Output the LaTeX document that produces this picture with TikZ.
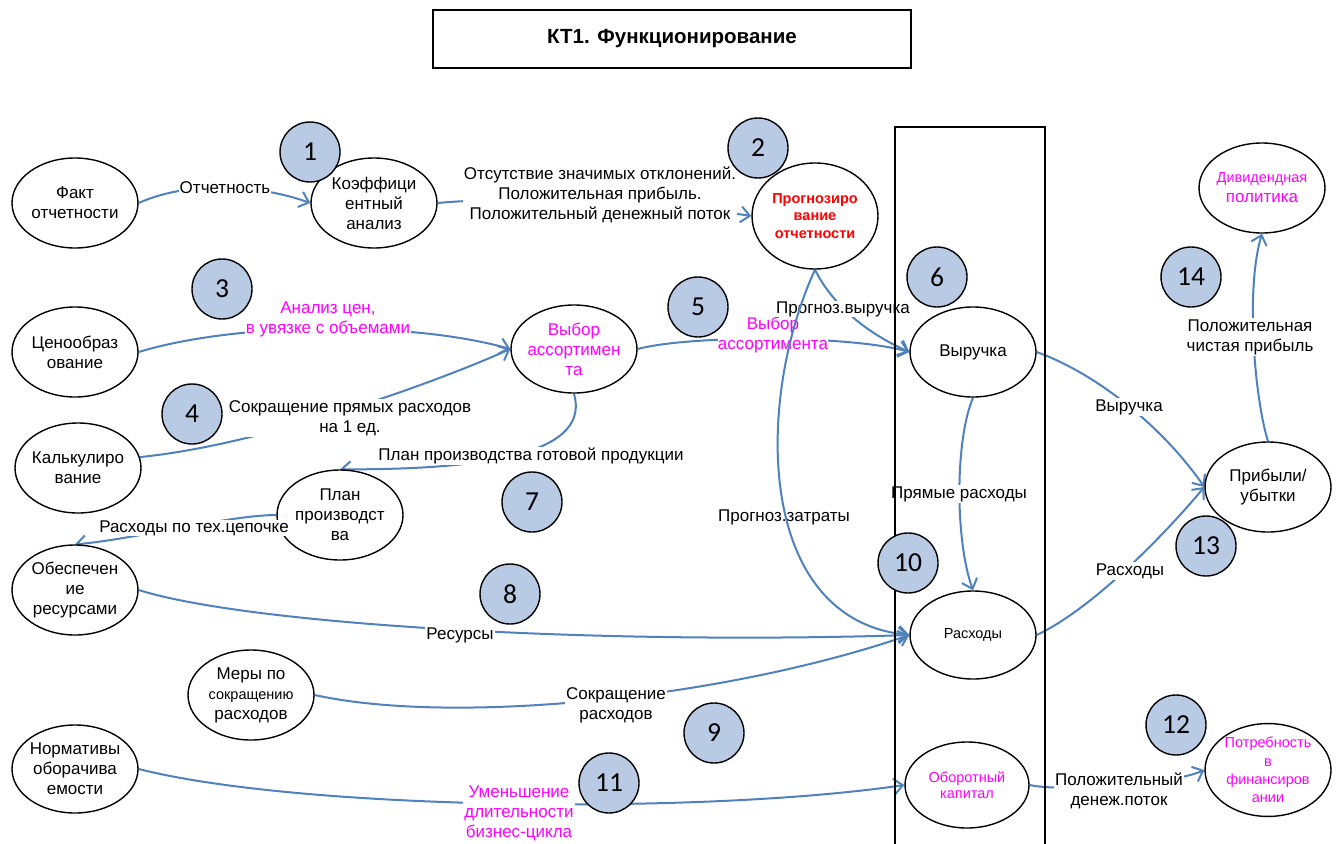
\documentclass[tikz,border=0pt]{standalone}
\usepackage{fontspec}
\setmainfont{Liberation Sans}
\newfontfamily\badgefont{Carlito}
\usetikzlibrary{arrows.meta,shapes.geometric}
\definecolor{flow}{RGB}{79,129,189}
\definecolor{badgeblue}{RGB}{185,203,228}
\definecolor{pinktext}{RGB}{255,0,255}
\definecolor{alerttext}{RGB}{255,0,0}
\pgfdeclarelayer{edges}
\pgfsetlayers{edges,main}

\tikzset{
  unit/.style={draw, ellipse, fill=white, line width=1.4pt, inner xsep=-3pt, inner ysep=0pt,
    align=center, minimum width=126pt, minimum height=90pt, font=\fontsize{17}{20}\selectfont},
  badge/.style={draw, circle, fill=badgeblue, line width=1.4pt, minimum size=60pt,
    inner sep=0pt, font=\badgefont\fontsize{27.5}{27.5}\selectfont},
  flowline/.style={draw=flow, line width=2pt, -{Straight Barb[length=9pt,width=16pt]}},
  lbl/.style={fill=white, inner sep=1pt, align=center, font=\fontsize{17}{20}\selectfont},
  smalltext/.style={font=\fontsize{14.5}{16}\selectfont},
}

\begin{document}
\begin{tikzpicture}[x=1pt,y=-1pt]
\useasboundingbox (0,0) rectangle (1343,843);

% header
\node[draw, line width=1.4pt, minimum width=478pt, minimum height=58pt, inner sep=0pt,
  font=\bfseries\fontsize{20.5}{22}\selectfont] (title) at (672,39) {КТ1. Функционирование};

% central column
\draw[line width=1.4pt] (895,850) -- (895,127) -- (1045,127) -- (1045,850);

% process nodes
\node[unit] (fakt)  at (75,203)  {Факт\\отчетности};
\node[unit] (koef)  at (374,203) {Коэффици\\ентный\\анализ};
\node[unit, minimum height=106pt, text=alerttext, font=\bfseries\fontsize{14.5}{17.5}\selectfont]
             (prog)  at (815,216) {Прогнозиро\\вание\\отчетности};
\node[unit, text=pinktext] (divid) at (1262,188)
  {{\fontsize{14.5}{20}\selectfont Дивидендная}\\политика};
\node[unit] (ceno)  at (75,352)  {Ценообраз\\ование};
\node[unit, minimum height=88pt, text=pinktext] (vybor) at (574,349) {Выбор\\ассортимен\\та};
\node[unit] (vyr)   at (973,352) {Выручка};
\node[unit] (kalk)  at (78,468)  {Калькулиро\\вание};
\node[unit] (plan)  at (340,515) {План\\производст\\ва};
\node[unit] (prib)  at (1268,487) {Прибыли/\\убытки};
\node[unit] (obesp) at (75,590)  {Обеспечен\\ие\\ресурсами};
\node[unit, minimum height=88pt, smalltext] (rash) at (973,635) {Расходы};
\node[unit] (mery)  at (251,695)
  {Меры по\\{\fontsize{14.5}{16}\selectfont сокращению}\\расходов};
\node[unit, minimum height=88pt] (norm) at (75,769) {Нормативы\\оборачива\\емости};
\node[unit, minimum width=124pt, minimum height=86pt, text=pinktext, smalltext]
             (obor)  at (967,785) {Оборотный\\капитал};
\node[unit, minimum height=88pt, text=pinktext, font=\fontsize{14.5}{18.3}\selectfont]
             (potr)  at (1268,770) {Потребность\\в\\финансиров\\ании};

% connectors
\begin{pgfonlayer}{edges}
\draw[flowline] (fakt.east) .. controls (190,180) and (260,185) .. (koef.west);
\node[lbl] (l1) at (225,188) {Отчетность};

\draw[flowline] (koef.east) .. controls (520,195) and (680,205) .. (prog.west);
\node[lbl] (l2) at (600,195) {Отсутствие значимых отклонений.\\Положительная прибыль.\\Положительный денежный поток};

\draw[flowline] (ceno.east) .. controls (237,322) and (411,321) .. (vybor.west);
\node[lbl, text=pinktext] (l3) at (328,319) {Анализ цен,\\в увязке с объемами};

\draw[flowline] (kalk.10) .. controls (260,445) and (430,385) .. (vybor.west);
\node[lbl] (l4) at (350,418) {Сокращение прямых расходов\\на 1 ед.};

\draw[flowline] (prog.south) .. controls (830,300) and (860,330) .. (vyr.west);
\draw[flowline] (vybor.east) .. controls (690,335) and (850,335) .. (vyr.west);
\node[lbl, text=pinktext, inner sep=0pt] (l5) at (773,335) {Выбор\\ассортимента};
\node[lbl, inner sep=0pt] (l6) at (843,309) {Прогноз.выручка};

\draw[flowline] (vybor.south) .. controls (590,450) and (500,470) .. (plan.north);
\node[lbl] (l7) at (531,456) {План производства готовой продукции};

\draw[flowline] (plan.west) .. controls (230,515) and (130,540) .. (obesp.north);

\draw[flowline] (obesp.east) .. controls (250,625) and (600,645) .. (rash.west);
\node[lbl] (l9) at (460,635) {Ресурсы};

\draw[flowline] (mery.east) .. controls (450,725) and (720,700) .. (rash.west);
\node[lbl] (l10) at (616,705) {Сокращение\\расходов};

\draw[flowline] (norm.east) .. controls (300,810) and (700,815) .. (obor.west);
\node[lbl, text=pinktext] (l11) at (519,813) {Уменьшение\\длительности\\бизнес-цикла};

\draw[flowline] (vyr.south) .. controls (955,440) and (955,540) .. (rash.north);
\node[lbl] (l12) at (959,494) {Прямые расходы};

\draw[flowline] (vyr.east) .. controls (1100,375) and (1165,430) .. (prib.west);
\node[lbl] (l13) at (1129,407) {Выручка};

\draw[flowline] (rash.east) .. controls (1090,610) and (1160,540) .. (prib.west);
\node[lbl] (l14) at (1130,571) {Расходы};

\draw[flowline] (prib.north) .. controls (1255,400) and (1245,290) .. (divid.south);
\node[lbl] (l15) at (1250,337) {Положительная\\чистая прибыль};

\draw[flowline] (obor.east) .. controls (1060,792) and (1170,785) .. (potr.west);
\node[lbl] (l16) at (1119,791) {Положительный\\денеж.поток};

% forecast of costs, drawn across the neighbouring labels
\node[lbl] (l17) at (784,517) {Прогноз.затраты};
\draw[flowline] (prog.south) .. controls (755,400) and (755,620) .. (rash.west);
\end{pgfonlayer}

% this label runs over the outline of the production plan node
\node[lbl, inner sep=0.5pt] (l8) at (194,528) {Расходы по тех.цепочке};

% step numbers
\node[badge] (b1)  at (310,152)  {1};
\node[badge] (b2)  at (758,148)  {2};
\node[badge] (b3)  at (222,289)  {3};
\node[badge] (b4)  at (192,414)  {4};
\node[badge] (b5)  at (698,307)  {5};
\node[badge] (b6)  at (937,277)  {6};
\node[badge] (b7)  at (532,502)  {7};
\node[badge] (b8)  at (510,594)  {8};
\node[badge] (b9)  at (714,733)  {9};
\node[badge] (b10) at (908,563)  {10};
\node[badge] (b11) at (609,783)  {11};
\node[badge] (b12) at (1176,725) {12};
\node[badge] (b13) at (1206,546) {13};
\node[badge] (b14) at (1191,277) {14};
\end{tikzpicture}
\end{document}
